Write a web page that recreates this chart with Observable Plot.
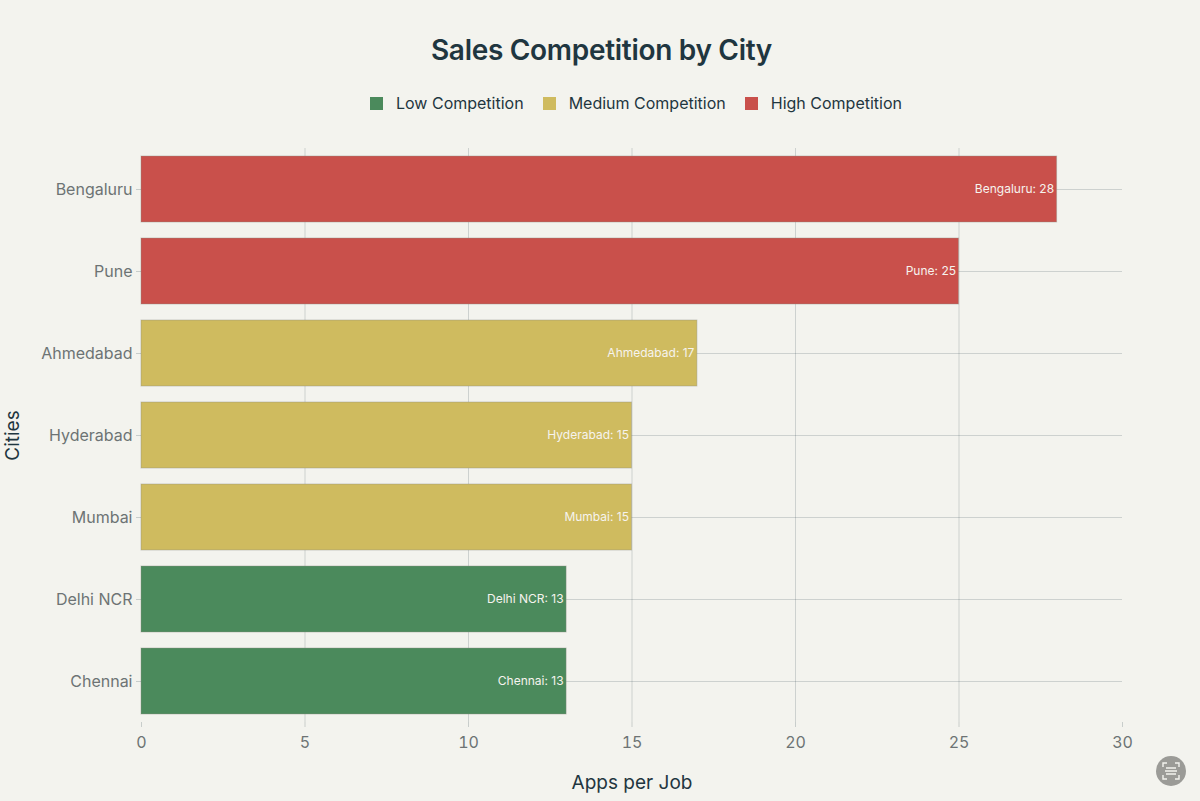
<!DOCTYPE html>
<html>
<head>
<meta charset="utf-8">
<script src="https://cdn.jsdelivr.net/npm/d3@7"></script>
<script src="https://cdn.jsdelivr.net/npm/@observablehq/plot@0.6"></script>
<style>
html,body{margin:0;padding:0;background:#f3f3ee;width:1200px;height:801px;overflow:hidden;font-family:Inter,"Liberation Sans",sans-serif;position:relative}
#head{height:130px;position:relative}
#title{position:absolute;left:0;width:1203px;top:31px;text-align:center;font-size:28px;line-height:38px;font-weight:600;color:#1f3640;letter-spacing:-0.3px}
#legend{position:absolute;top:92px;left:370px;display:flex;align-items:center;color:#1f3640;font-size:16px;line-height:22px;white-space:nowrap}
.sw{width:13px;height:13px;display:inline-block;margin-right:13px}
.it{display:flex;align-items:center;margin-right:19px}
svg{display:block}
#lens{position:absolute;left:1156px;top:756px;width:30px;height:30px;border-radius:50%;background:#9b9b97}
</style>
</head>
<body>
<div id="head"><div id="title">Sales Competition by City</div><div id="legend"></div></div>
<div id="chart"></div>
<div id="lens"><svg width="30" height="30" viewBox="0 0 30 30" fill="none" stroke="#f3f3ee" stroke-width="1.4"><path d="M7 11V7h4M19 7h4v4M23 19v4h-4M11 23H7v-4M10 12h10M9 15h12M10 18h10"/></svg></div>
<script>
const cities = ["Bengaluru","Pune","Ahmedabad","Hyderabad","Mumbai","Delhi NCR","Chennai"];
const appsPerJob = [28,25,17,15,15,13,13];
const levels = ["High Competition","High Competition","Medium Competition","Medium Competition","Medium Competition","Low Competition","Low Competition"];
const legendOrder = ["Low Competition","Medium Competition","High Competition"];
const legendColors = ["#4b8a5c","#cfbb5f","#c9504b"];
const xTicks = [0,5,10,15,20,25,30];
const xGrid = [5,10,15,20,25];
const rows = cities.map((c,i)=>({city:c,value:appsPerJob[i],level:levels[i]}));

const legend = document.getElementById("legend");
legendOrder.forEach((l,i)=>{
  const it=document.createElement("span");it.className="it";
  const s=document.createElement("span");s.className="sw";s.style.background=legendColors[i];
  it.append(s,document.createTextNode(l));legend.append(it);
});

const plot = Plot.plot({
  width:1200,height:671,
  marginLeft:141,marginRight:78,marginTop:18,marginBottom:79,
  style:{background:"transparent",fontFamily:"Inter, 'Liberation Sans', sans-serif",overflow:"visible"},
  x:{domain:[0,30],ticks:xTicks,label:null},
  y:{domain:cities,paddingInner:0.195,paddingOuter:0.09,label:null},
  color:{domain:legendOrder,range:legendColors},
  marks:[
    Plot.ruleX(xGrid,{x:d=>d,stroke:"#1f3640",strokeOpacity:0.18,strokeWidth:1}),
    Plot.ruleY(cities,{y:d=>d,stroke:"#1f3640",strokeOpacity:0.18,strokeWidth:1}),
    Plot.barX(rows,{y:"city",x:"value",fill:"level",stroke:"#8f8f85",strokeOpacity:0.4,strokeWidth:1}),
    Plot.text(rows,{y:"city",x:"value",text:d=>`${d.city}: ${d.value}`,textAnchor:"end",dx:-3,fill:"#f6f3ee",fontSize:12}),
    Plot.axisX({ticks:xTicks,tickSize:5,tickPadding:9,stroke:"#1f3640",strokeOpacity:0.2,fill:"#6d7374",fontSize:16,label:null,tickFormat:d=>d}),
    Plot.axisY({tickSize:5,tickPadding:4,stroke:"#1f3640",strokeOpacity:0.2,fill:"#6d7374",fontSize:16,label:null}),
    Plot.axisX({anchor:"bottom",ticks:[],label:"Apps per Job",labelAnchor:"center",labelArrow:"none",labelOffset:66,fill:"#1f3640",fontSize:19}),
    Plot.axisY({anchor:"left",ticks:[],label:"Cities",labelAnchor:"center",labelArrow:"none",labelOffset:136,fill:"#1f3640",fontSize:19})
  ]
});
document.getElementById("chart").append(plot);
</script>
</body>
</html>
